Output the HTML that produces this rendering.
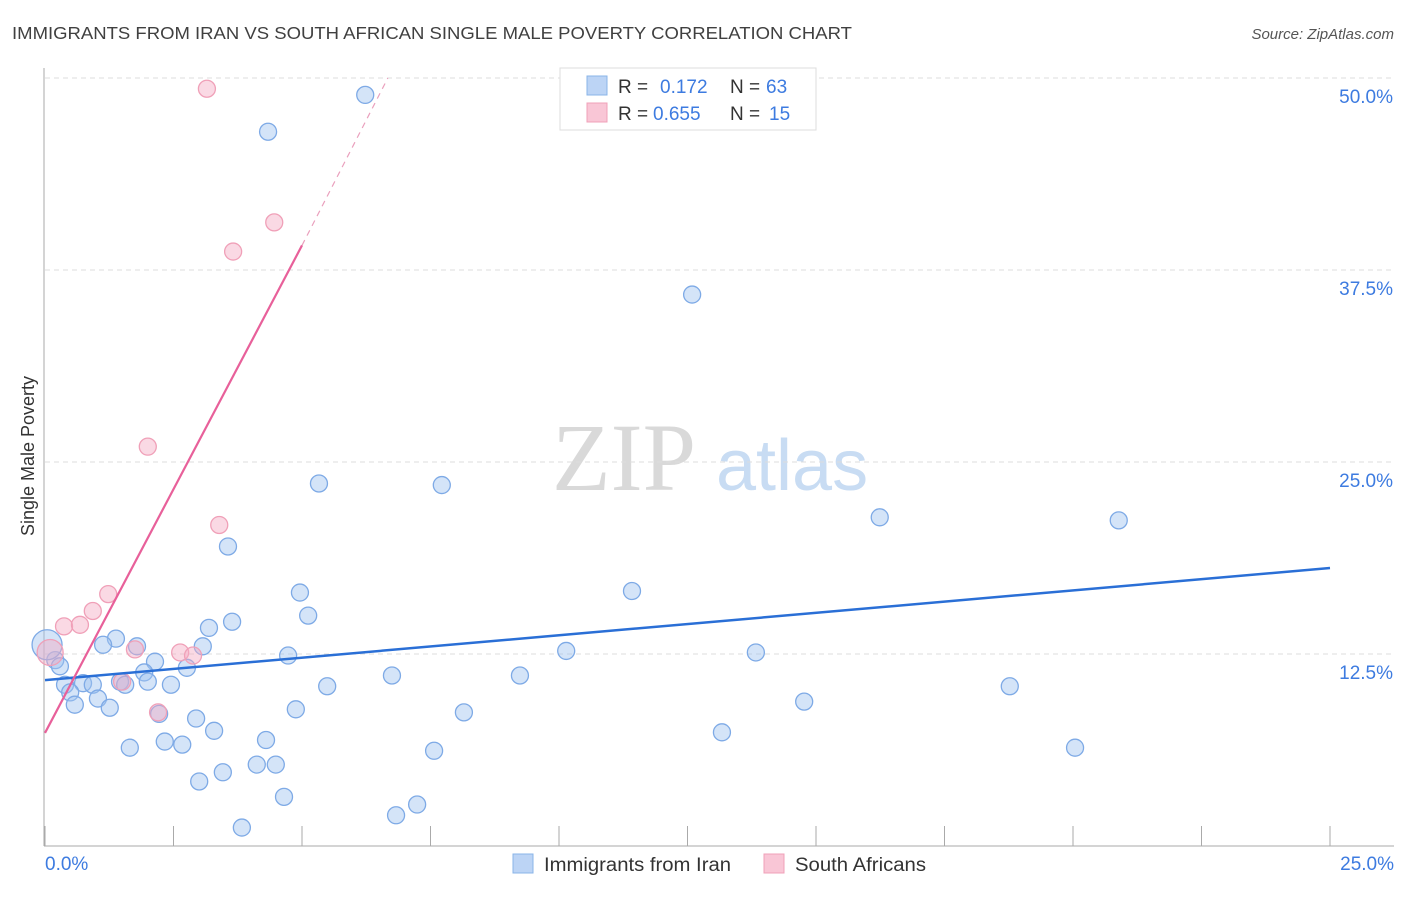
<!DOCTYPE html>
<html><head><meta charset="utf-8"><style>
body{margin:0;background:#fff;width:1406px;height:892px;overflow:hidden;font-family:"Liberation Sans",sans-serif}
</style></head><body>
<svg id="chart" width="1406" height="892" xmlns="http://www.w3.org/2000/svg">
<text x="12" y="39" font-size="17.5" fill="#404040" textLength="840" lengthAdjust="spacingAndGlyphs">IMMIGRANTS FROM IRAN VS SOUTH AFRICAN SINGLE MALE POVERTY CORRELATION CHART</text>
<text x="1394" y="39" font-size="15" fill="#555" text-anchor="end" font-style="italic">Source: ZipAtlas.com</text>
<text x="552" y="490" font-size="96" fill="#d9d9d9" font-family="Liberation Serif,serif">ZIP</text>
<text x="716" y="490" font-size="72" fill="#c8dcf3">atlas</text>
<text transform="translate(34,456) rotate(-90)" font-size="18" fill="#333" text-anchor="middle">Single Male Poverty</text>
<g id="grid"></g><g id="pts"></g><g id="lines"></g>
<g>
<rect x="560" y="68" width="256" height="62" fill="#fff" stroke="#ddd"/>
<rect x="587" y="76" width="20" height="19" fill="#bcd4f5" stroke="#8ab4e8"/>
<rect x="587" y="103" width="20" height="19" fill="#f9c6d6" stroke="#f0a0b8"/>
<text x="618" y="93" font-size="19" fill="#333">R = </text><text x="660" y="93" font-size="19" fill="#3d7be0">0.172</text>
<text x="730" y="93" font-size="19" fill="#333">N = </text><text x="766" y="93" font-size="19" fill="#3d7be0">63</text>
<text x="618" y="120" font-size="19" fill="#333">R = </text><text x="653" y="120" font-size="19" fill="#3d7be0">0.655</text>
<text x="730" y="120" font-size="19" fill="#333">N = </text><text x="769" y="120" font-size="19" fill="#3d7be0">15</text>
</g>
<g>
<rect x="513" y="854" width="20" height="19" fill="#bcd4f5" stroke="#8ab4e8"/>
<text x="544" y="871" font-size="19" fill="#333" textLength="187" lengthAdjust="spacingAndGlyphs">Immigrants from Iran</text>
<rect x="764" y="854" width="20" height="19" fill="#f9c6d6" stroke="#f0a0b8"/>
<text x="795" y="871" font-size="19" fill="#333" textLength="131" lengthAdjust="spacingAndGlyphs">South Africans</text>
</g>
</svg>
<script>
const xTicks=[0,2.5,5,7.5,10,12.5,15,17.5,20,22.5,25];
const yTicks=[12.5,25,37.5,50];
const yTickLabels=["12.5%","25.0%","37.5%","50.0%"];
const blueX=[6.23,4.34,12.59,5.33,7.72,16.24,20.89,3.56,11.42,4.96,5.12,3.64,3.19,1.38,1.13,1.79,3.07,10.14,13.83,4.73,0.2,0.29,2.14,2.76,1.93,6.75,9.24,0.74,0.93,1.46,1.56,2.0,2.45,0.39,5.49,18.77,0.49,1.03,14.77,0.58,1.26,4.88,8.15,2.22,2.94,3.29,13.17,2.33,4.3,2.67,1.65,7.57,20.04,4.12,4.49,3.46,3.0,4.65,7.24,6.83,3.83,0.04];
const blueY=[48.9,46.5,35.9,23.6,23.5,21.4,21.2,19.5,16.6,16.5,15.0,14.6,14.2,13.5,13.1,13.0,13.0,12.7,12.6,12.4,12.1,11.7,12.0,11.6,11.3,11.1,11.1,10.6,10.5,10.7,10.5,10.7,10.5,10.5,10.4,10.4,10.0,9.6,9.4,9.2,9.0,8.9,8.7,8.6,8.3,7.5,7.4,6.8,6.9,6.6,6.4,6.2,6.4,5.3,5.3,4.8,4.2,3.2,2.7,2.0,1.2,13.1];
const pinkX=[3.15,4.46,3.66,2.0,3.39,1.23,0.93,0.37,0.68,1.75,2.63,2.88,1.5,2.2,0.1];
const pinkY=[49.3,40.6,38.7,26.0,20.9,16.4,15.3,14.3,14.4,12.8,12.6,12.4,10.7,8.7,12.6];
const blueLine=[[0,10.8],[25,18.1]];
const pinkLine=[[0,7.36],[5,39.1]];
const pinkDash=[[5,39.1],[6.67,50]];
const X=v=>45+v*51.4, Y=v=>846-v*15.36;
const NS="http://www.w3.org/2000/svg";
function mk(p,t,a){const e=document.createElementNS(NS,t);for(const k in a)e.setAttribute(k,a[k]);p.appendChild(e);return e;}
const grid=document.getElementById('grid');
yTicks.forEach((t,i)=>{
 const l=mk(grid,'line',{x1:45,x2:1394,y1:Y(t),y2:Y(t),stroke:'#ddd','stroke-dasharray':'5,4'});
 
 
 const tx=mk(grid,'text',{x:1393,y:Y(t)+25,'font-size':19,fill:'#3d7be0','text-anchor':'end'});tx.textContent=yTickLabels[i];
 
 
});
const ax=mk(grid,'line',{x1:44,x2:44,y1:68,y2:846,stroke:'#aaa'});


const bx=mk(grid,'line',{x1:44,x2:1394,y1:846,y2:846,stroke:'#aaa'});


xTicks.forEach(t=>{const l=mk(grid,'line',{x1:X(t),x2:X(t),y1:826,y2:846,stroke:'#aaa'});
 
 });
[[0,'0.0%','start',45],[25,'25.0%','end',1394]].forEach(d=>{const t=mk(grid,'text',{x:d[3],y:870,'font-size':19,fill:'#3d7be0','text-anchor':d[2]});t.textContent=d[1];
 
 });
const pts=document.getElementById('pts');
blueX.forEach((x,i)=>{const c=mk(pts,'circle',{cx:X(x),cy:Y(blueY[i]),r:i==blueX.length-1?15:8.5,fill:'rgba(160,196,240,0.45)',stroke:'#7eaae6','stroke-width':1.3});
 
 });
pinkX.forEach((x,i)=>{const c=mk(pts,'circle',{cx:X(x),cy:Y(pinkY[i]),r:i==pinkX.length-1?13:8.5,fill:'rgba(245,170,195,0.45)',stroke:'#f0a0b8','stroke-width':1.3});
 
 });
const lines=document.getElementById('lines');
const b=mk(lines,'line',{x1:X(blueLine[0][0]),y1:Y(blueLine[0][1]),x2:X(blueLine[1][0]),y2:Y(blueLine[1][1]),stroke:'#2a6fd6','stroke-width':2.5});


const p=mk(lines,'line',{x1:X(pinkLine[0][0]),y1:Y(pinkLine[0][1]),x2:X(pinkLine[1][0]),y2:Y(pinkLine[1][1]),stroke:'#e8609a','stroke-width':2.2});


const pd=mk(lines,'line',{x1:X(pinkDash[0][0]),y1:Y(pinkDash[0][1]),x2:X(pinkDash[1][0]),y2:Y(pinkDash[1][1]),stroke:'#eaa0bd','stroke-width':1.2,'stroke-dasharray':'6,5'});


</script>
</body></html>
